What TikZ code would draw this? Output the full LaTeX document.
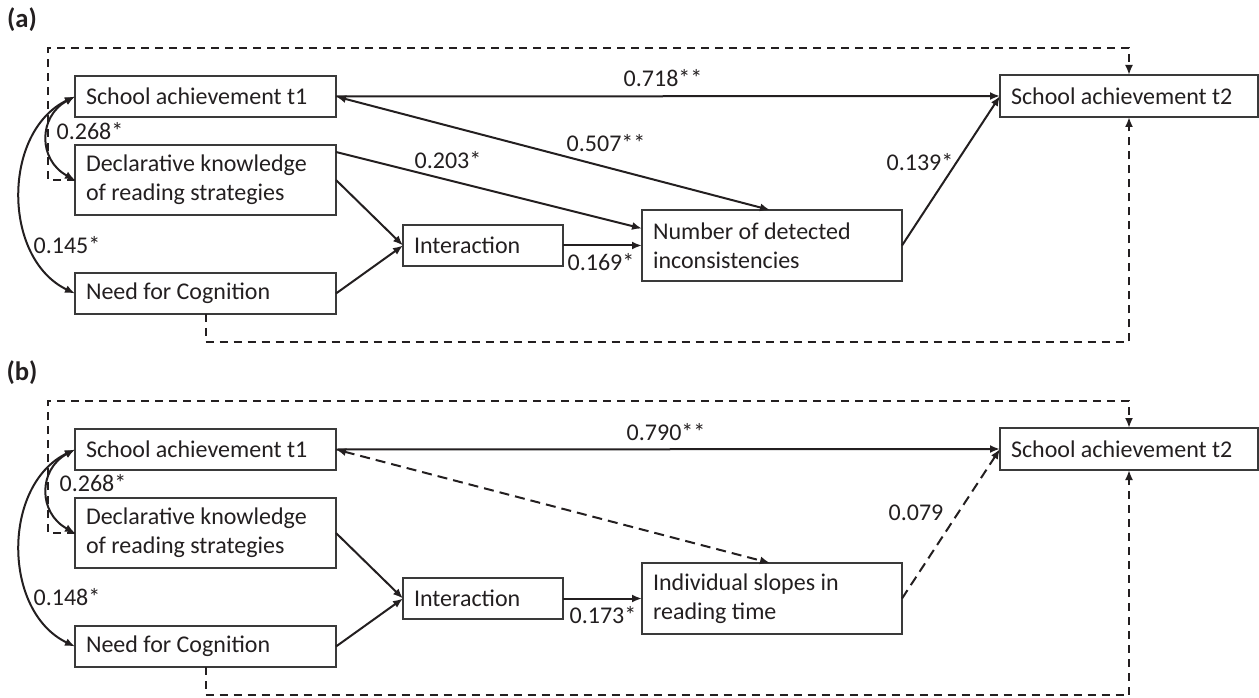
\documentclass[tikz,border=0pt]{standalone}
\usepackage{fontspec}
\setmainfont{Carlito}
\usetikzlibrary{arrows.meta,calc}
\definecolor{ink}{HTML}{231F20}
\definecolor{frame}{HTML}{3A3A3A}
\tikzset{
  every node/.style={font=\fontsize{18}{21.5}\selectfont, text=ink},
  box/.style={draw=frame, line width=0.8pt, anchor=north west, align=flush left,
    inner xsep=8.25pt, inner ysep=0pt, outer sep=0pt},
  conn/.style={draw=ink, line width=1.5pt, -{Latex[length=7.5pt,width=6pt]}},
  conntwo/.style={draw=ink, line width=1.5pt, {Latex[length=7.5pt,width=6pt]}-{Latex[length=7.5pt,width=6pt]}},
  dashy/.style={dash pattern=on 6pt off 4.5pt},
  lbl/.style={inner sep=0pt},
  panel/.style={font=\fontsize{20}{24}\selectfont\bfseries, inner sep=0pt},
}
\newcommand\mybox[6]{%
  \pgfmathsetlengthmacro\mytw{(#4-22)*0.75pt}%
  \pgfmathsetlengthmacro\mymh{#5*0.75pt}%
  \node[box, text width=\mytw, minimum height=\mymh] (#1) at (#2,#3) {#6};}
\begin{document}
\begin{tikzpicture}[x=0.75pt,y=-0.75pt]
\useasboundingbox (0,0) rectangle (1259,698);

% ---------------- panel (a)
\node[panel] (pa) at (22,20) {(a)};
\mybox{at1}{75}{76}{261}{41}{School achievement t1}
\mybox{adecl}{75}{145}{261}{70}{Declarative knowledge\\of reading strategies}
\mybox{anfc}{75}{273}{261}{41}{Need for Cognition}
\mybox{aint}{403}{225}{160}{41}{Interaction}
\mybox{anum}{642}{210}{260}{71}{Number of detected\\inconsistencies}
\mybox{at2}{1000}{75}{258}{42}{School achievement t2}

\draw[conn] (at1.east) -- (at2.west);
\draw[conntwo] (at1.east) -- ($(anum.north west)+(128,0)$);
\draw[conn] ($(adecl.north east)+(0,7)$) -- ($(anum.west)+(0,-17)$);
\draw[conn] (adecl.east) -- (aint.west);
\draw[conn] (anfc.east) -- (aint.west);
\draw[conn] (aint.east) -- (anum.west);
\draw[conn] (anum.east) -- (at2.west);
\draw[conntwo] (at1.west) .. controls ($(at1.west)+(-37,20)$) and ($(adecl.west)+(-37,-20)$) .. (adecl.west);
\draw[conntwo] (at1.west) .. controls ($(at1.west)+(-73,35)$) and ($(anfc.west)+(-73,-35)$) .. (anfc.west);
\draw[conn, dashy] (adecl.west) -- ++(-27,0) |- ($(at2.north)+(0,-27)$) -- (at2.north);
\draw[conn, dashy] (anfc.south) -- ++(0,28) -| (at2.south);

\node[lbl] (a718) at (663,78) {0.718**};
\node[lbl] (a507) at (606,143) {0.507**};
\node[lbl] (a203) at (448,160) {0.203*};
\node[lbl] (a169) at (601,262) {0.169*};
\node[lbl] (a139) at (920,162) {0.139*};
\node[lbl] (a268) at (90,131) {0.268*};
\node[lbl] (a145) at (67,245) {0.145*};

% ---------------- panel (b)
\node[panel] (pb) at (22,373) {(b)};
\begin{scope}[shift={(0,353)}]
\mybox{bt1}{75}{76}{261}{41}{School achievement t1}
\mybox{bdecl}{75}{145}{261}{70}{Declarative knowledge\\of reading strategies}
\mybox{bnfc}{75}{273}{261}{41}{Need for Cognition}
\mybox{bint}{403}{225}{160}{41}{Interaction}
\mybox{bslp}{642}{210}{260}{71}{Individual slopes in\\reading time}
\mybox{bt2}{1000}{75}{258}{42}{School achievement t2}

\draw[conn] (bt1.east) -- (bt2.west);
\draw[conntwo, dash pattern=on 7.5pt off 4.5pt] (bt1.east) -- ($(bslp.north west)+(128,0)$);
\draw[conn] (bdecl.east) -- (bint.west);
\draw[conn] (bnfc.east) -- (bint.west);
\draw[conn] (bint.east) -- (bslp.west);
\draw[conn, dash pattern=on 7.5pt off 4.5pt] (bslp.east) -- (bt2.west);
\draw[conntwo] (bt1.west) .. controls ($(bt1.west)+(-37,20)$) and ($(bdecl.west)+(-37,-20)$) .. (bdecl.west);
\draw[conntwo] (bt1.west) .. controls ($(bt1.west)+(-73,35)$) and ($(bnfc.west)+(-73,-35)$) .. (bnfc.west);
\draw[conn, dashy] (bdecl.west) -- ++(-27,0) |- ($(bt2.north)+(0,-27)$) -- (bt2.north);
\draw[conn, dashy] (bnfc.south) -- ++(0,28) -| (bt2.south);

\node[lbl] (b790) at (666,79) {0.790**};
\node[lbl] (b173) at (603,262) {0.173*};
\node[lbl] (b079) at (916,160) {0.079};
\node[lbl] (b268) at (93,130) {0.268*};
\node[lbl] (b148) at (67,244) {0.148*};
\end{scope}
\end{tikzpicture}
\end{document}
